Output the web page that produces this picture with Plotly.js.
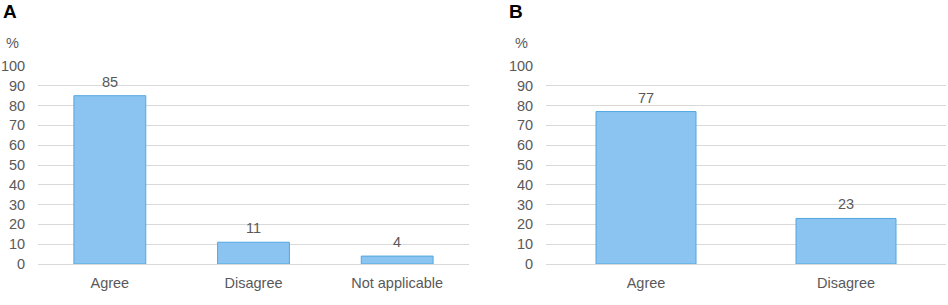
<!DOCTYPE html>
<html><head><meta charset="utf-8">
<script src="https://cdn.plot.ly/plotly-3.0.1.min.js"></script>
<style>html,body{margin:0;padding:0;background:#fff}#c{width:948px;height:305px}</style>
</head><body><div id="c"></div>
<script>
const catsA = ["Agree", "Disagree", "Not applicable"];
const valsA = [85, 11, 4];
const catsB = ["Agree", "Disagree"];
const valsB = [77, 23];
const yTicks = [0,10,20,30,40,50,60,70,80,90,100];

const font = {family: "Liberation Sans, Arial, sans-serif", size: 14.5, color: "#595959"};
const barStyle = {color: "#8BC4F0", line: {color: "#52A8E0", width: 1}};

const traces = [
  {type: "bar", x: catsA, y: valsA, marker: barStyle, width: 0.5, xaxis: "x", yaxis: "y", hoverinfo: "none"},
  {type: "bar", x: catsB, y: valsB, marker: barStyle, width: 0.5, xaxis: "x2", yaxis: "y2", hoverinfo: "none"}
];

const W = 948, H = 305;
const yDom = [1 - 264/H, 1 - 66/H];
const xAx = (dom, anchor) => ({domain: dom, anchor: anchor, showgrid: false, zeroline: false,
  showline: false, ticks: "outside", ticklen: 6, tickcolor: "rgba(0,0,0,0)", tickfont: font, fixedrange: true});
const yAx = (anchor) => ({domain: yDom, anchor: anchor, range: [0, 100], tickvals: yTicks,
  showgrid: true, gridcolor: "#D9D9D9", gridwidth: 1, zeroline: true, zerolinecolor: "#D9D9D9", zerolinewidth: 1,
  showline: false, ticks: "outside", ticklen: 9, tickcolor: "rgba(0,0,0,0)", tickfont: font, fixedrange: true});

const valueLabels = (cats, vals, xr, yr) => cats.map((c, i) => ({
  text: String(vals[i]), x: c, y: vals[i], xref: xr, yref: yr, showarrow: false,
  xanchor: "center", yanchor: "middle", yshift: 14, font: font
}));

const layout = {
  width: W, height: H, margin: {l: 0, r: 0, t: 0, b: 0},
  paper_bgcolor: "#fff", plot_bgcolor: "#fff", showlegend: false, bargap: 0.5,
  xaxis: xAx([38/W, 469/W], "y"),
  yaxis: yAx("x"),
  xaxis2: xAx([546/W, 946/W], "y2"),
  yaxis2: yAx("x2"),
  annotations: [
    {text: "<b>A</b>", xref: "paper", yref: "paper", x: 10/W, y: 1 - 12/H, showarrow: false,
     font: {family: "Liberation Sans, Arial, sans-serif", size: 19, color: "#000"}, xanchor: "center", yanchor: "middle"},
    {text: "<b>B</b>", xref: "paper", yref: "paper", x: 516/W, y: 1 - 12/H, showarrow: false,
     font: {family: "Liberation Sans, Arial, sans-serif", size: 19, color: "#000"}, xanchor: "center", yanchor: "middle"},
    {text: "%", xref: "paper", yref: "paper", x: 12/W, y: 1 - 43/H, showarrow: false,
     font: font, xanchor: "center", yanchor: "middle"},
    {text: "%", xref: "paper", yref: "paper", x: 521/W, y: 1 - 43/H, showarrow: false,
     font: font, xanchor: "center", yanchor: "middle"}
  ].concat(valueLabels(catsA, valsA, "x", "y"), valueLabels(catsB, valsB, "x2", "y2"))
};
Plotly.newPlot("c", traces, layout, {displayModeBar: false, staticPlot: true});
</script></body></html>
